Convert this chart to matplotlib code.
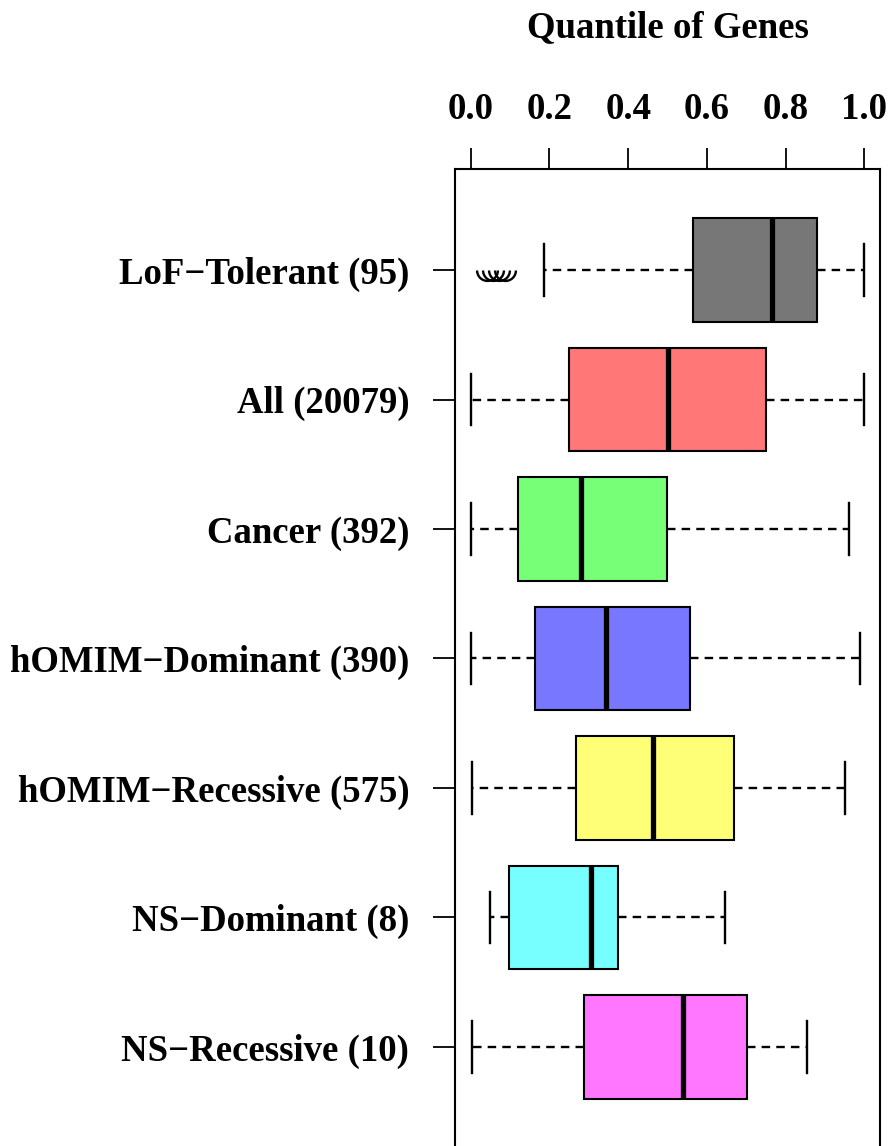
import numpy as np
import matplotlib.pyplot as plt
from matplotlib.path import Path

# gene sets, top to bottom
labels = ["LoF\u2212Tolerant (95)", "All (20079)", "Cancer (392)",
          "hOMIM\u2212Dominant (390)", "hOMIM\u2212Recessive (575)",
          "NS\u2212Dominant (8)", "NS\u2212Recessive (10)"]
whislo = [0.187, 0.000, 0.000, 0.000, 0.003, 0.050, 0.004]
q1     = [0.566, 0.250, 0.120, 0.162, 0.268, 0.096, 0.289]
med    = [0.766, 0.500, 0.280, 0.344, 0.463, 0.305, 0.539]
q3     = [0.881, 0.750, 0.498, 0.557, 0.668, 0.374, 0.703]
whishi = [0.999, 1.000, 0.962, 0.990, 0.952, 0.645, 0.855]
fliers = [[0.041, 0.056, 0.071, 0.086], [], [], [], [], [], []]
colors = ["#777777", "#FF7777", "#77FF77", "#7777FF", "#FFFF77", "#77FFFF", "#FF77FF"]
xticks = [0.0, 0.2, 0.4, 0.6, 0.8, 1.0]

font = "Liberation Serif"
fs = 26.5

stats = []
for i in range(len(labels)):
    stats.append(dict(whislo=whislo[i], q1=q1[i], med=med[i], q3=q3[i],
                      whishi=whishi[i], fliers=fliers[i]))

fig = plt.figure(figsize=(8.88, 11.46), dpi=100)
ax = fig.add_axes([0.5124, -0.0017, 0.4786, 0.8542])

# open half-circle symbol for outliers
arc = Path.arc(180, 360)

pos = np.arange(1, len(labels) + 1)
bp = ax.bxp(stats, positions=pos, vert=False, widths=0.8, patch_artist=True,
            showcaps=True,
            boxprops=dict(linewidth=1.5, edgecolor="black"),
            medianprops=dict(color="black", linewidth=3.8, solid_capstyle="butt"),
            whiskerprops=dict(color="black", linewidth=1.7, linestyle=(0, (3.6, 2.6))),
            capprops=dict(color="black", linewidth=1.7),
            capwidths=0.4,
            flierprops=dict(marker=arc, markersize=15, markerfacecolor="none",
                            markeredgecolor="black", markeredgewidth=1.7,
                            linestyle="none"))
for patch, c in zip(bp["boxes"], colors):
    patch.set_facecolor(c)

ax.set_xlim(-0.04, 1.04)
ax.set_ylim(len(labels) + 0.78, 0.22)

ax.xaxis.tick_top()
ax.xaxis.set_label_position("top")
ax.set_xticks(xticks)
ax.set_xticklabels(["%.1f" % t for t in xticks], fontfamily=font,
                   fontweight="bold", fontsize=fs)
ax.set_yticks(pos)
ax.set_yticklabels(labels, fontfamily=font, fontweight="bold", fontsize=fs)
ax.tick_params(axis="x", length=15, width=1.3, pad=15)
ax.tick_params(axis="y", length=16, width=1.3, pad=17)
ax.set_xlabel("Quantile of Genes", fontfamily=font, fontweight="bold",
              fontsize=fs, labelpad=40)

for s in ax.spines.values():
    s.set_linewidth(1.5)

fig.savefig("out.png", dpi=100)
